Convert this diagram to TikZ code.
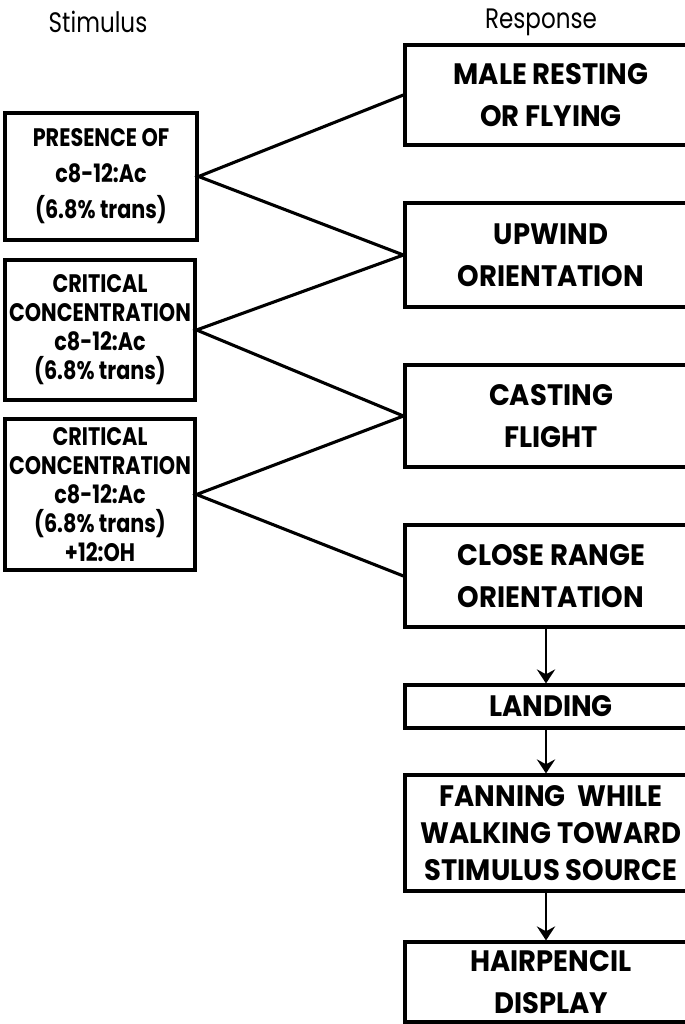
\documentclass[tikz,border=0pt]{standalone}
\usepackage{fontspec}
\setmainfont{Poppins}[FakeStretch=0.82]
\newfontfamily\respfont{Poppins}[FakeStretch=0.93]
\usetikzlibrary{positioning, arrows.meta}

\tikzset{
	stimbox/.style = {draw, line width=2.2pt, align=center, inner sep=0pt, font=\bfseries\fontsize{18}{20.6}\selectfont},
	respbox/.style = {draw, line width=2.2pt, align=center, inner sep=0pt, minimum width=7.3cm, font=\respfont\bfseries\fontsize{21}{29.5}\selectfont},
	heading/.style = {font=\fontsize{20}{22}\selectfont},
	link/.style = {line width=2.2pt},
	flow/.style = {-{Stealth[length=10pt, width=13pt, inset=3.5pt]}, line width=2pt}
}

\begin{document}
\begin{tikzpicture}[x=0.025cm, y=-0.025cm]
	\useasboundingbox (0,0) rectangle (684,1024);
	% column titles
	\node[heading] (stim) at (98,22) {Stimulus};
	\node[heading] (resp) at (541,22) {Response};

	% stimulus side
	\node[stimbox, minimum width=4.8cm, minimum height=3.175cm, font=\bfseries\fontsize{18}{25.6}\selectfont] (pres) at (101,176.5) {PRESENCE OF\\c8-12:Ac\\(6.8\% trans)};
	\node[stimbox, minimum width=4.75cm, minimum height=3.5cm] (crit) at (100,330) {CRITICAL\\CONCENTRATION\\c8-12:Ac\\(6.8\% trans)};
	\node[stimbox, minimum width=4.75cm, minimum height=3.775cm] (critoh) at (100,494.5) {CRITICAL\\CONCENTRATION\\c8-12:Ac\\(6.8\% trans)\\+12:OH};

	% response side
	\node[respbox, minimum height=2.5cm] (rest) at (551,95) {MALE RESTING\\OR FLYING};
	\node[respbox, minimum height=2.6cm] (upwind) at (551,255) {UPWIND\\ORIENTATION};
	\node[respbox, minimum height=2.55cm] (cast) at (551,416) {CASTING\\FLIGHT};
	\node[respbox, minimum height=2.55cm] (close) at (551,576) {CLOSE RANGE\\ORIENTATION};
	\node[respbox, minimum height=1.075cm] (land) at (551,706.5) {LANDING};
	\node[respbox, minimum height=2.9cm, font=\respfont\bfseries\fontsize{21}{26.3}\selectfont] (fan) at (551,833) {FANNING\ \ WHILE\\WALKING TOWARD\\STIMULUS SOURCE};
	\node[respbox, minimum height=2cm] (hair) at (551,982) {HAIRPENCIL\\DISPLAY};

	% links
	\draw[link] (rest.west) -- (pres.east) -- (upwind.west);
	\draw[link] (upwind.west) -- (crit.east) -- (cast.west);
	\draw[link] (cast.west) -- (critoh.east) -- (close.west);

	% sequence
	\draw[flow] ([xshift=-0.125cm]close.south) -- ([xshift=-0.125cm]land.north);
	\draw[flow] ([xshift=-0.125cm]land.south) -- ([xshift=-0.125cm]fan.north);
	\draw[flow] ([xshift=-0.125cm]fan.south) -- ([xshift=-0.125cm]hair.north);
\end{tikzpicture}
\end{document}
